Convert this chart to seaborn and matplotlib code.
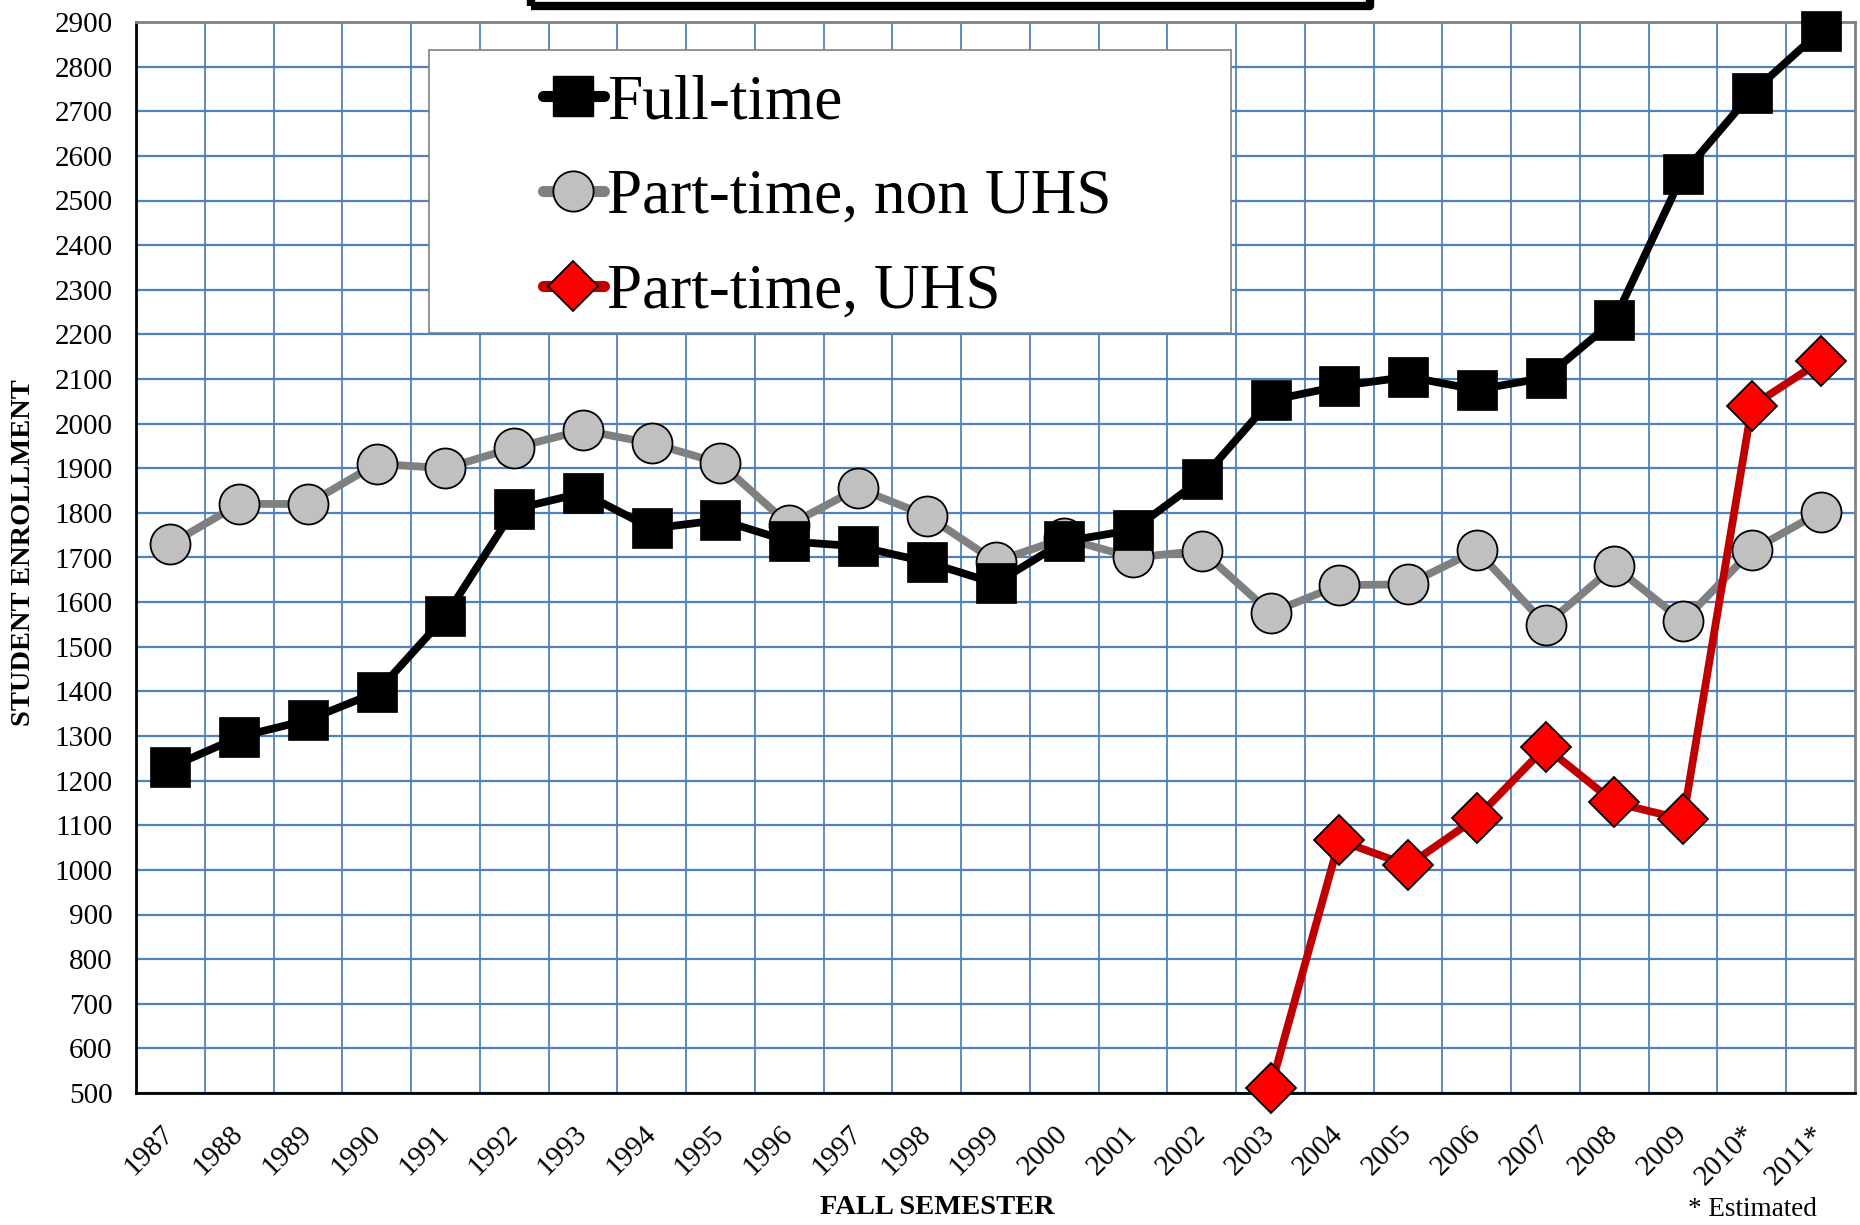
import numpy as np
import pandas as pd
import matplotlib
matplotlib.use("Agg")
import matplotlib.pyplot as plt
import matplotlib.transforms as mtransforms
from matplotlib.patches import Rectangle
from matplotlib.lines import Line2D
import seaborn as sns

# ---------------- data ----------------
years = ["1987", "1988", "1989", "1990", "1991", "1992", "1993", "1994", "1995",
         "1996", "1997", "1998", "1999", "2000", "2001", "2002", "2003", "2004",
         "2005", "2006", "2007", "2008", "2009", "2010*", "2011*"]
full_time = [1230, 1298, 1336, 1398, 1568, 1808, 1845, 1765, 1784, 1736, 1725,
             1690, 1642, 1736, 1762, 1876, 2052, 2084, 2105, 2076, 2103, 2232,
             2560, 2741, 2880]
part_non_uhs = [1730, 1820, 1820, 1910, 1900, 1946, 1985, 1956, 1911, 1773, 1855,
                1794, 1691, 1743, 1700, 1715, 1576, 1638, 1640, 1716, 1549, 1680,
                1557, 1716, 1802]
uhs_years = ["2003", "2004", "2005", "2006", "2007", "2008", "2009", "2010*", "2011*"]
part_uhs = [511, 1066, 1010, 1117, 1275, 1151, 1113, 2039, 2140]
series_labels = ["Full-time", "Part-time, non UHS", "Part-time, UHS"]
y_ticks = list(range(500, 3000, 100))

# ---------------- style ----------------
sns.set_theme(style="white")
plt.rcParams["font.family"] = ["Liberation Serif", "DejaVu Serif"]
plt.rcParams["text.color"] = "black"
plt.rcParams["axes.labelcolor"] = "black"
plt.rcParams["xtick.color"] = "black"
plt.rcParams["ytick.color"] = "black"

W, H = 1860, 1225
fig = plt.figure(figsize=(W / 100, H / 100), dpi=100)
ax = fig.add_axes([136 / W, 1 - 1093 / H, (1855 - 136) / W, (1093 - 22) / H])

pos = {y: i for i, y in enumerate(years)}
df_ft = pd.DataFrame({"x": [pos[y] for y in years], "v": full_time})
df_pn = pd.DataFrame({"x": [pos[y] for y in years], "v": part_non_uhs})
df_pu = pd.DataFrame({"x": [pos[y] for y in uhs_years], "v": part_uhs})

LW = 5.6
sns.lineplot(data=df_pn, x="x", y="v", ax=ax, color="#808080", linewidth=LW,
             marker="o", markersize=28.8, markerfacecolor="#C0C0C0",
             markeredgecolor="black", markeredgewidth=1.3, clip_on=False, zorder=4)
sns.lineplot(data=df_ft, x="x", y="v", ax=ax, color="black", linewidth=LW,
             marker="s", markersize=29.5, markerfacecolor="black",
             markeredgecolor="black", markeredgewidth=0.5, clip_on=False, zorder=5)
sns.lineplot(data=df_pu, x="x", y="v", ax=ax, color="#C00000", linewidth=LW,
             marker="D", markersize=25.5, markerfacecolor="#FF0000",
             markeredgecolor="black", markeredgewidth=1.3, clip_on=False, zorder=6)

ax.set_xlim(-0.5, len(years) - 0.5)
ax.set_ylim(500, 2900)
ax.set_yticks(y_ticks)
ax.set_yticklabels([str(v) for v in y_ticks], fontsize=21)
ax.set_xticks(range(len(years)))
ax.set_xticklabels(years, fontsize=21, rotation=45, ha="right", va="top")
ax.set_xticks(np.arange(0.5, len(years) - 0.5, 1), minor=True)
ax.tick_params(axis="both", which="both", length=0)
ax.tick_params(axis="y", pad=17)
ax.tick_params(axis="x", pad=20)
shift = mtransforms.ScaledTranslation(9 / 100, 0, fig.dpi_scale_trans)
for lbl in ax.get_xticklabels():
    lbl.set_transform(lbl.get_transform() + shift)

grid_col = "#4F81BD"
ax.grid(True, axis="y", which="major", color=grid_col, linewidth=1.6)
ax.grid(True, axis="x", which="minor", color=grid_col, linewidth=1.3)
ax.grid(False, axis="x", which="major")
ax.set_axisbelow(True)

for s in ["top", "right"]:
    ax.spines[s].set_color("#808080")
    ax.spines[s].set_linewidth(2)
for s in ["left", "bottom"]:
    ax.spines[s].set_color("black")
    ax.spines[s].set_linewidth(2)

ax.set_xlabel("")
ax.set_ylabel("")
fig.text(937 / W, 1 - 1208 / H, "FALL SEMESTER", fontsize=20.5, fontweight="bold",
         ha="center", va="center")
fig.text(24 / W, 1 - 553 / H, "STUDENT ENROLLMENT", fontsize=20.5, fontweight="bold",
         rotation=90, ha="center", va="center")
fig.text(1817 / W, 1 - 1210 / H, "* Estimated", fontsize=19.5, ha="right",
         va="center")

# cut-off title box at top
fig.patches.append(Rectangle((531 / W, 1 - 6 / H), (1370 - 531) / W, 40 / H,
                             transform=fig.transFigure, facecolor="none",
                             edgecolor="black", linewidth=6, joinstyle="round",
                             zorder=10))

# legend box
fig.patches.append(Rectangle((429 / W, 1 - 333 / H), (1231 - 429) / W,
                             (333 - 50) / H, transform=fig.transFigure,
                             facecolor="white", edgecolor="#808080",
                             linewidth=1.2, zorder=20))
handles = [
    Line2D([], [], color="black", linewidth=8, marker="s", markersize=29,
           markerfacecolor="black", markeredgecolor="black",
           solid_capstyle="round"),
    Line2D([], [], color="#808080", linewidth=8, marker="o", markersize=29,
           markerfacecolor="#C0C0C0", markeredgecolor="black",
           markeredgewidth=1.3, solid_capstyle="round"),
    Line2D([], [], color="#C00000", linewidth=8, marker="D", markersize=25,
           markerfacecolor="#FF0000", markeredgecolor="black",
           markeredgewidth=1.3, solid_capstyle="round"),
]
leg = fig.legend(handles, series_labels, loc="center left",
                 bbox_to_anchor=(543 / W, 1 - 198 / H), frameon=False,
                 fontsize=45.5, handlelength=0.96, handletextpad=0.05,
                 labelspacing=0.58, borderpad=0, borderaxespad=0, numpoints=1)
leg.set_zorder(25)

fig.savefig("out.png", dpi=100)
